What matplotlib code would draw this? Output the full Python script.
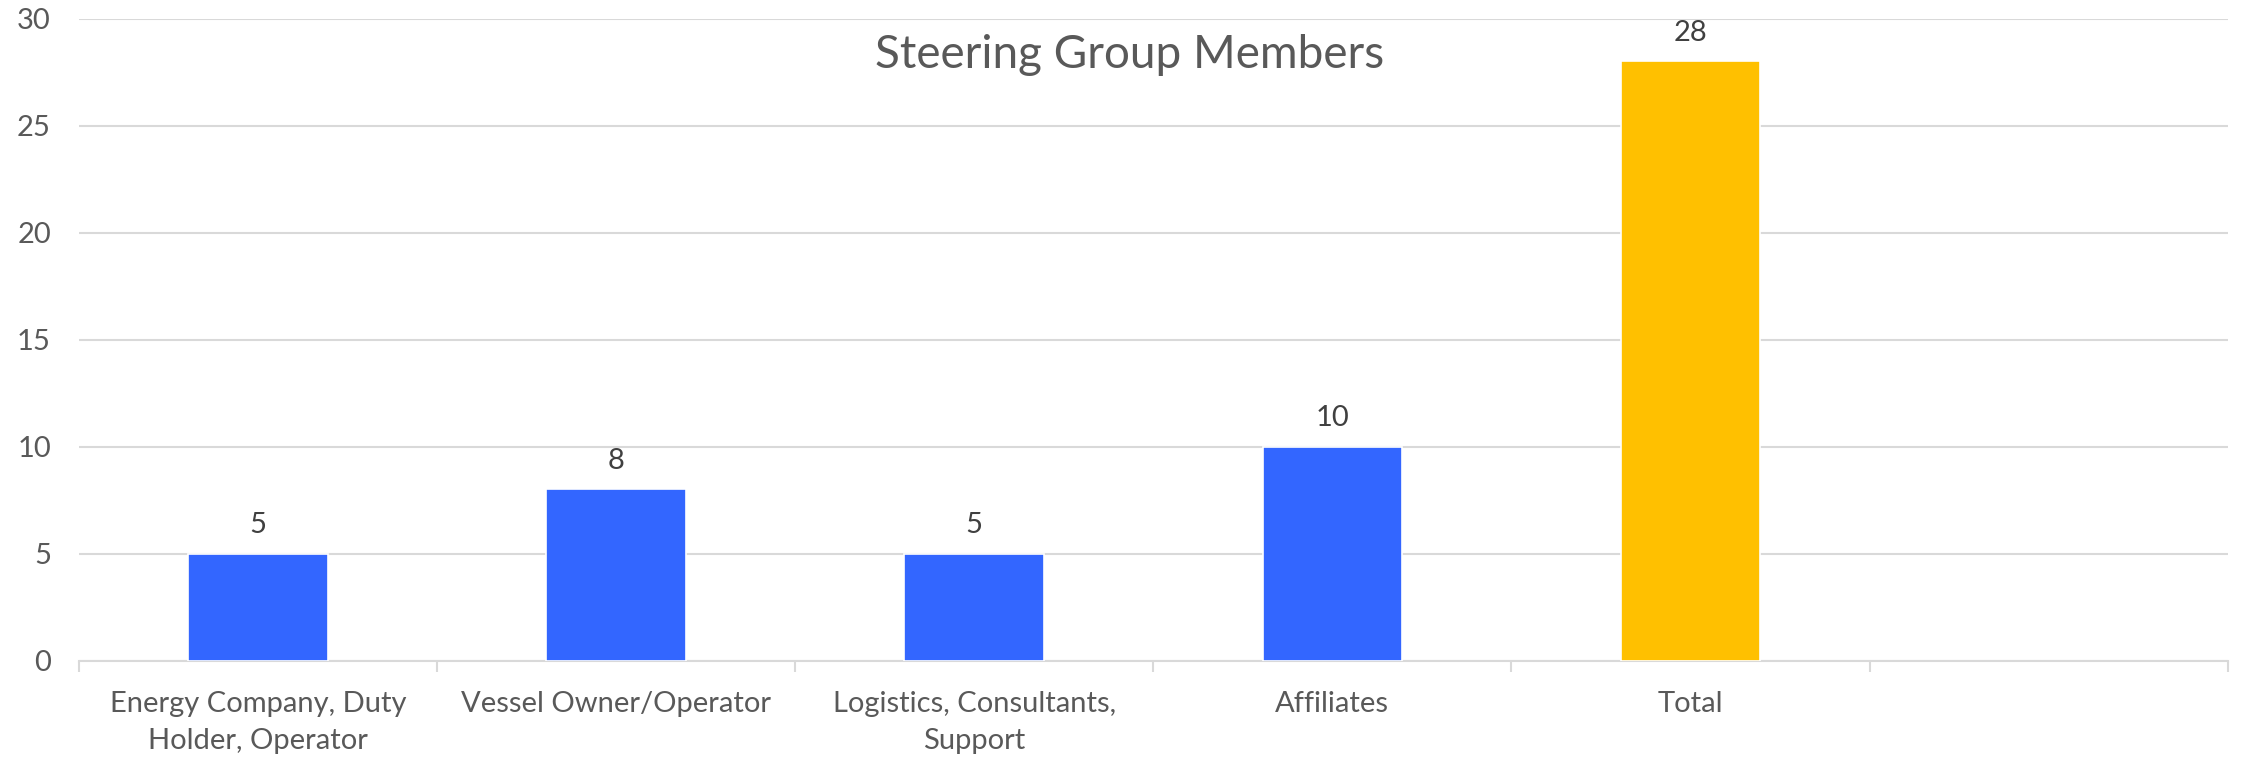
import matplotlib
matplotlib.use("Agg")
import matplotlib.pyplot as plt
import numpy as np

categories = ["Energy Company, Duty\nHolder, Operator", "Vessel Owner/Operator",
              "Logistics, Consultants,\nSupport", "Affiliates", "Total", ""]
values = [5, 8, 5, 10, 28, None]
bar_colors = ["#3366FF", "#3366FF", "#3366FF", "#3366FF", "#FFC000", "#FFFFFF"]
yticks = [0, 5, 10, 15, 20, 25, 30]
title = "Steering Group Members"

plt.rcParams['font.family'] = ['Lato', 'DejaVu Sans']

fig = plt.figure(figsize=(22.42, 7.64), dpi=100)
ax = fig.add_axes([0.0351, 0.1353, 0.9586, 0.8404])

x = np.arange(len(categories))
for i, v in enumerate(values):
    if v is None:
        continue
    ax.bar(x[i], v, width=0.39, color=bar_colors[i], edgecolor="white",
           linewidth=1.2, zorder=3)
    ax.annotate(str(v), (x[i], v), xytext=(0, 11), textcoords="offset points",
                ha="center", va="bottom", fontsize=21, color="#404040")

ax.set_xlim(-0.5, len(categories) - 0.5)
ax.set_ylim(0, 30)
ax.set_yticks(yticks)
ax.yaxis.grid(True, color="#D9D9D9", linewidth=1.5, zorder=0)
ax.set_axisbelow(True)

ax.set_xticks(x)
ax.set_xticklabels(categories, fontsize=21, color="#595959", linespacing=1.52)
ax.tick_params(axis="x", length=0, pad=22)
ax.set_xticks(np.arange(-0.5, len(categories)), minor=True)
ax.tick_params(axis="x", which="minor", length=8, width=1.5, color="#D9D9D9")
ax.tick_params(axis="y", length=0, pad=20, labelsize=21, labelcolor="#595959")

for s in ["top", "right", "left"]:
    ax.spines[s].set_visible(False)
ax.spines["bottom"].set_color("#D9D9D9")
ax.spines["bottom"].set_linewidth(1.5)

ax.text(0.489, 0.943, title, transform=ax.transAxes, ha="center", va="center",
        fontsize=33, color="#595959")

fig.savefig("out.png", dpi=100, facecolor="white")
